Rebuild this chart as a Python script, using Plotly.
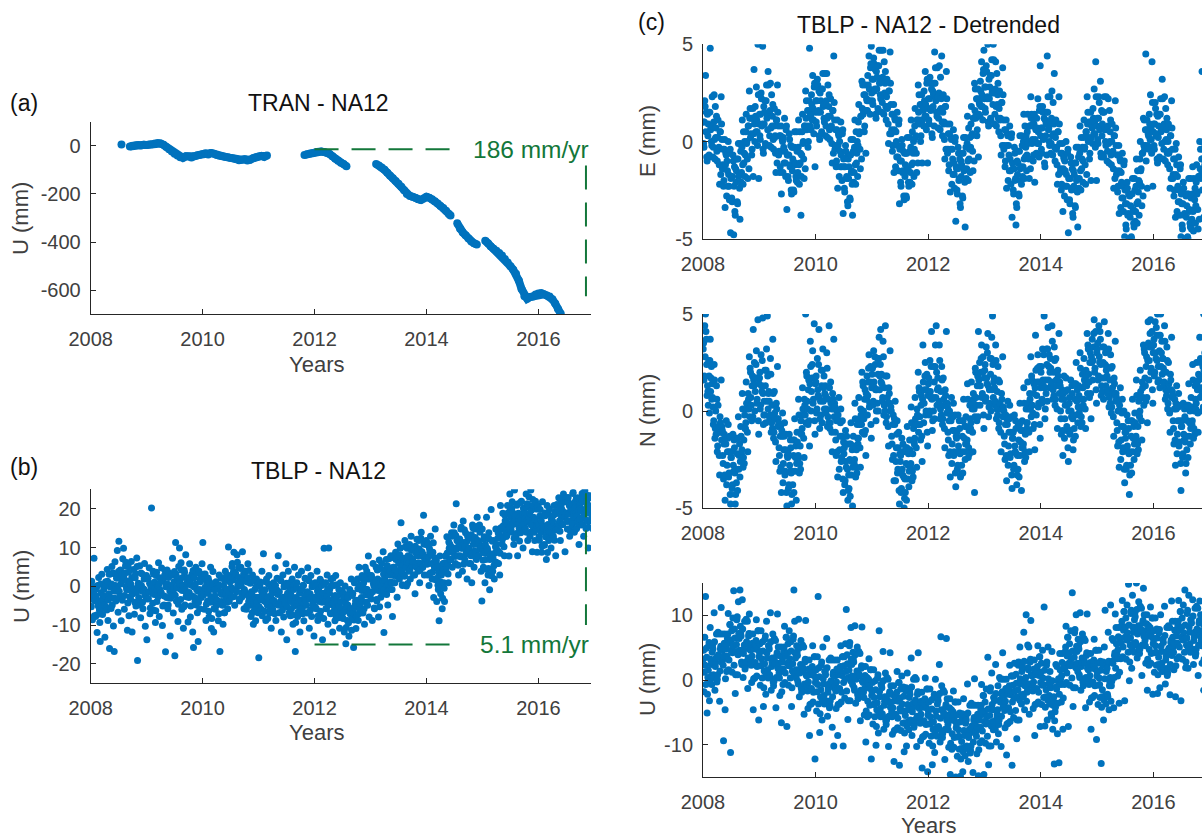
import plotly.graph_objects as go

# ---------------- data ----------------
year_ticks = [2008, 2010, 2012, 2014, 2016]
year_labels = ["2008", "2010", "2012", "2014", "2016"]

a_ticks = [-600, -400, -200, 0]
a_labels = ["-600", "-400", "-200", "0"]
b_ticks = [-20, -10, 0, 10, 20]
b_labels = ["-20", "-10", "0", "10", "20"]
en_ticks = [-5, 0, 5]
en_labels = ["-5", "0", "5"]
cu_ticks = [-10, 0, 10]
cu_labels = ["-10", "0", "10"]

# (a) TRAN - NA12 vertical (mm); None marks data gaps
tran_t = [2008.55, 2008.60,
          2008.70, 2008.75, 2008.80, 2008.85, 2008.90, 2008.95, 2009.00, 2009.05, 2009.10,
          2009.15, 2009.20, 2009.25, 2009.30, 2009.35, 2009.40, 2009.45, 2009.50, 2009.55,
          2009.60, 2009.65, 2009.70, 2009.75, 2009.80, 2009.85, 2009.90, 2009.95, 2010.00,
          2010.05, 2010.10, 2010.15, 2010.20, 2010.25, 2010.30, 2010.35, 2010.40, 2010.45,
          2010.50, 2010.55, 2010.60, 2010.65, 2010.70, 2010.75, 2010.80, 2010.85, 2010.90,
          2010.95, 2011.00, 2011.05, 2011.10, 2011.15, 2011.50,
          2011.82, 2011.87, 2011.92, 2011.97, 2012.02, 2012.07, 2012.12, 2012.17, 2012.22,
          2012.27, 2012.32, 2012.37, 2012.42, 2012.47, 2012.52, 2012.57, 2012.80,
          2013.10, 2013.15, 2013.20, 2013.25, 2013.30, 2013.35, 2013.40, 2013.45, 2013.50,
          2013.55, 2013.60, 2013.65, 2013.70, 2013.75, 2013.80, 2013.85, 2013.90, 2013.95,
          2014.00, 2014.05, 2014.10, 2014.15, 2014.20, 2014.25, 2014.30, 2014.35, 2014.40,
          2014.43, 2014.49,
          2014.55, 2014.60, 2014.65, 2014.70, 2014.75, 2014.80, 2014.85, 2014.90, 2014.97,
          2015.05, 2015.10, 2015.15, 2015.20, 2015.25, 2015.30, 2015.35, 2015.40, 2015.45,
          2015.50, 2015.55, 2015.60, 2015.65, 2015.70, 2015.75, 2015.80, 2015.85, 2015.90,
          2015.95, 2016.00, 2016.05, 2016.10, 2016.15, 2016.20, 2016.25, 2016.30, 2016.35,
          2016.40]
tran_u = [5, None,
          -3, 0, 2, 3, 1, 4, 3, 5, 6,
          9, 12, 9, 4, -5, -14, -24, -33, -40,
          -48, -50, -44, -45, -49, -44, -40, -37, -34,
          -31, -36, -30, -33, -38, -41, -44, -46, -48,
          -51, -53, -56, -60, -58, -56, -61, -58, -52,
          -48, -45, -42, -46, -40, None,
          -38, -35, -32, -30, -27, -25, -24, -26, -29,
          -34, -44, -54, -62, -70, -76, -85, None,
          -76, -82, -90, -100, -112, -125, -135, -146, -158,
          -170, -185, -200, -208, -212, -216, -222, -225, -219,
          -212, -216, -222, -230, -240, -250, -258, -270, -283,
          -290, None,
          -322, -345, -360, -372, -385, -398, -405, -410, None,
          -394, -405, -418, -428, -436, -445, -456, -470, -485,
          -500, -515, -532, -560, -595, -625, -635, -628, -626,
          -618, -614, -612, -617, -622, -626, -638, -655, -678,
          -698]

# (b) TBLP - NA12 vertical (mm); one row per month 2008-01 .. 2016-12 (two reading passes)
tblp_u = [
    [-5.2, 1.3, -8.6, -2.1, 7.2, -3.7], [-7.8, -0.6, -11.9, -4.4, 2.3, -6.1],
    [-14.2, -1.7, 3.1, -7.3, -3.6, 0.4], [-13.1, 1.2, -5.4, 4.3, -8.8, -1.9],
    [-16.0, 3.2, -5.7, 5.1, 0.3, -10.2], [-16.8, 6.3, -3.8, 2.1, 9.2, -6.7],
    [11.6, -2.7, 4.2, -8.9, 1.4, 7.1], [9.8, -5.9, 3.4, 6.2, -0.8, -11.3],
    [5.1, -7.6, 1.2, -3.3, 6.4, -11.8], [-1.9, 4.3, -7.2, 2.2, -5.1, 7.3],
    [-19.1, 0.8, -4.2, 5.3, -8.1, 0.2], [3.2, -5.8, -0.7, 5.9, -10.3, -2.8],
    [-13.8, 2.1, -3.2, 4.8, -7.1, 0.3], [20.2, -1.8, 3.9, -6.2, 1.1, -9.3],
    [2.8, -3.9, 0.2, 6.1, -7.8, -0.9], [-2.2, 4.7, -10.1, 1.3, -4.8, 2.9],
    [-16.9, 0.4, 4.2, -5.8, 2.3, -2.9], [-12.8, 3.1, -1.9, 7.2, -6.9, 1.2],
    [-17.9, 11.3, -3.8, 2.2, -9.1, 5.1], [9.9, -0.7, 6.1, -5.9, 2.3, -10.8],
    [4.2, -4.8, 8.1, -1.8, 1.1, -9.2], [-2.9, 5.8, -7.9, 0.3, 3.1, -11.8],
    [-15.8, 2.2, -3.9, 4.9, -0.8, -6.8], [-14.2, 3.9, -5.8, 1.2, -2.9, 5.8],
    [11.3, -1.8, -5.9, 3.2, -8.8, 0.2], [-3.8, 2.1, -7.9, -0.8, 4.9, -10.9],
    [-2.9, 3.8, -11.8, -0.9, -5.9, 1.2], [-4.8, 0.3, -8.9, 2.9, -16.8, -1.8],
    [-3.9, 2.2, -9.8, 0.1, -6.8, 3.9], [-1.8, 2.9, -5.8, 10.1, -3.9, 1.1],
    [2.2, -2.8, 5.9, -0.8, 8.8, -4.9], [3.1, -0.9, 8.1, 0.2, 4.8, -3.8],
    [0.2, 4.9, -2.8, 8.9, 2.1, -5.8], [-1.8, 3.9, -5.9, 1.1, 5.8, -3.9],
    [-3.9, 0.8, -7.8, -1.9, 2.9, -9.8], [-4.8, -0.8, -8.9, 1.9, -2.9, -6.8],
    [-18.4, -2.8, 1.1, -5.9, 3.9, -1.8], [8.4, -3.8, -0.9, -8.8, 1.9, -4.8],
    [-2.9, 2.8, -6.9, 0.1, -10.8, -1.8], [-5.9, 0.9, -3.8, 4.8, -8.8, -0.9],
    [-1.8, 7.9, -6.8, 1.9, -3.9, -11.8], [-4.8, 2.9, -7.9, 0.2, -2.9, 5.8],
    [-13.8, -1.8, 3.9, -6.8, 0.9, -3.9], [-5.8, 1.9, -9.8, -0.8, 4.9, -16.8],
    [-2.9, 0.9, -7.8, 2.9, -4.8, -11.8], [-0.8, 3.9, -5.8, 0.2, -8.9, -2.8],
    [-3.8, 1.9, -6.9, 4.8, -1.9, -10.8], [-1.9, 2.8, -7.8, 0.1, -4.9, -12.8],
    [-2.8, 0.9, -5.8, 3.9, -8.8, -0.9], [-3.9, 1.8, -7.9, 0.2, -13.8, -1.8],
    [9.8, -2.8, 0.9, -5.8, 2.9, -9.8], [9.9, -1.8, -6.9, 1.9, -3.8, -11.8],
    [-4.8, 0.2, -8.9, 2.8, -2.9, -6.8], [-5.9, -0.8, -10.8, 0.9, -3.9, -7.9],
    [-6.8, -1.9, -11.8, 0.1, -14.8, -4.9], [-8.8, -2.9, -12.9, -0.8, -5.9, 1.9],
    [-7.9, -1.8, -15.8, 0.9, -4.8, -10.9], [-3.9, 1.9, -8.8, 4.9, -5.8, 0.2],
    [-2.9, 2.8, -6.9, 0.9, -9.8, 4.9], [-0.8, 3.9, -4.9, 7.8, -7.9, 1.9],
    [-1.9, 2.8, -8.8, 5.9, 0.2, -5.8], [0.1, 4.9, -3.8, 1.9, -7.9, 6.8],
    [0.9, -2.8, 5.9, -0.8, 8.9, -11.9], [1.9, -1.8, 6.9, 0.2, -4.8, 3.9],
    [2.9, -0.8, 7.9, 0.9, -7.8, 4.9], [4.9, 0.9, 8.8, 2.9, -2.8, 10.9],
    [5.9, 1.9, 9.8, 16.4, 3.9, 0.2], [6.9, 2.9, 11.8, 4.9, 0.1, 9.8],
    [7.9, 3.9, 10.8, 1.9, 12.9, 5.8], [6.9, 2.9, 9.8, -1.9, 8.8, 4.9],
    [7.9, 3.9, 11.8, 0.9, 5.8, 13.9], [8.9, 4.9, 18.3, 2.9, 6.8, 10.8],
    [6.9, 2.9, 10.8, 0.2, 8.8, 12.9], [5.9, 1.9, 8.8, -2.9, 4.8, 14.8],
    [1.9, -3.9, 4.8, -0.8, -8.9, 7.8], [-1.9, 2.9, -5.8, 5.9, 0.9, -3.9],
    [7.8, 3.9, 12.8, 5.9, 0.9, 9.8], [10.8, 6.9, 13.8, 4.9, 8.8, 15.8],
    [9.8, 5.9, 21.3, 11.8, 7.9, 2.9], [11.8, 7.9, 14.8, 9.8, 3.9, 16.8],
    [10.8, 6.9, 13.8, 8.9, 1.9, 12.8], [9.8, 5.9, 12.8, 7.9, 0.9, 15.8],
    [10.8, 4.9, 14.8, 8.9, 6.9, 17.8], [11.8, 7.9, 15.8, 9.8, 3.9, -3.8],
    [8.9, 4.9, 12.8, 0.9, 6.9, 17.8], [9.8, 2.9, 13.8, -0.9, 7.9, 19.8],
    [7.9, 3.9, 11.8, 1.9, 5.9, 14.8], [10.8, 5.9, 13.8, 8.9, 2.9, 20.8],
    [14.8, 10.9, 18.8, 12.8, 7.9, 16.9], [16.8, 12.9, 20.8, 14.8, 7.8, 23.8],
    [17.8, 13.9, 21.8, 15.9, 10.8, 24.8], [16.9, 12.8, 20.9, 7.9, 18.8, 14.9],
    [17.9, 13.8, 21.9, 15.8, 9.9, 19.8], [18.8, 14.9, 23.8, 16.9, 11.8, 20.9],
    [17.8, 12.9, 24.8, 15.8, 8.9, 20.8], [16.9, 11.8, 21.9, 14.8, 8.8, 19.9],
    [15.8, 11.9, 19.8, 13.9, 8.8, 21.8], [14.9, 10.8, 18.9, 12.8, 6.9, 20.8],
    [15.9, 11.8, 19.9, 13.8, 9.9, 17.8], [16.8, 12.9, 20.8, 14.9, 7.9, 18.9],
    [18.8, 14.9, 22.8, 16.9, 11.8, 20.9], [19.8, 15.9, 23.8, 17.9, 8.9, 21.8],
    [18.9, 14.8, 22.9, 16.8, 12.9, 20.8], [19.9, 15.8, 23.9, 17.8, 13.9, 21.8],
    [18.8, 14.9, 22.8, 16.9, 10.8, 20.9], [19.9, 15.8, 23.9, 17.8, 12.9, 21.8],
    [18.8, 14.9, 21.9, 16.8, 9.9, 20.8], [19.9, 16.8, 22.9, 17.9, 14.8, 20.9],
]
tblp_u_2 = [
    [-5.3, 0.1, -3.4, -1.2, -7.6, -2.3], [-2.8, -7.4, 0.2, -5.1, -3.7, -9.3],
    [0.6, -3.9, -5.7, -2.5, -0.8, -4.8], [-2.6, 0.4, -6.1, 1.3, -3.5, 3.1],
    [-0.1, -2.9, 0.6, -4.8, 3.4, -1.2], [-3.1, 0.2, 2.9, -1.3, -0.7, 3.8],
    [-1.3, 4.1, 0.6, 2.8, -3.6, 1.7], [2.2, -2.4, 5.2, -0.1, 1.3, -4.3],
    [3.6, -0.9, -2.7, 0.5, 2.2, -1.8], [-0.6, 2.4, -4.1, 3.3, -1.5, 5.1],
    [-0.1, -2.9, 0.6, -4.8, 3.4, -1.2], [-4.1, -0.8, 1.9, -2.3, -1.7, 2.8],
    [-3.3, 2.1, -1.4, 0.8, -5.6, -0.3], [0.2, -4.4, 3.2, -2.1, -0.7, -6.3],
    [3.6, -0.9, -2.7, 0.5, 2.2, -1.8], [-1.6, 1.4, -5.1, 2.3, -2.5, 4.1],
    [-0.1, -2.9, 0.6, -4.8, 3.4, -1.2], [-3.1, 0.2, 2.9, -1.3, -0.7, 3.8],
    [-2.3, 3.1, -0.4, 1.8, -4.6, 0.7], [1.2, -3.4, 4.2, -1.1, 0.3, -5.3],
    [3.6, -0.9, -2.7, 0.5, 2.2, -1.8], [-1.6, 1.4, -5.1, 2.3, -2.5, 4.1],
    [-0.1, -2.9, 0.6, -4.8, 3.4, -1.2], [-4.1, -0.8, 1.9, -2.3, -1.7, 2.8],
    [-2.3, 3.1, -0.4, 1.8, -4.6, 0.7], [-1.8, -6.4, 1.2, -4.1, -2.7, -8.3],
    [0.6, -3.9, -5.7, -2.5, -0.8, -4.8], [-3.6, -0.6, -7.1, 0.3, -4.5, 2.1],
    [-2.1, -4.9, -1.4, -6.8, 1.4, -3.2], [-4.1, -0.8, 1.9, -2.3, -1.7, 2.8],
    [-0.3, 5.1, 1.6, 3.8, -2.6, 2.7], [3.2, -1.4, 6.2, 0.9, 2.3, -3.3],
    [4.6, 0.1, -1.7, 1.5, 3.2, -0.8], [-1.6, 1.4, -5.1, 2.3, -2.5, 4.1],
    [-2.1, -4.9, -1.4, -6.8, 1.4, -3.2], [-6.1, -2.8, -0.1, -4.3, -3.7, 0.8],
    [-5.3, 0.1, -3.4, -1.2, -7.6, -2.3], [-1.8, -6.4, 1.2, -4.1, -2.7, -8.3],
    [0.6, -3.9, -5.7, -2.5, -0.8, -4.8], [-3.6, -0.6, -7.1, 0.3, -4.5, 2.1],
    [-2.1, -4.9, -1.4, -6.8, 1.4, -3.2], [-6.1, -2.8, -0.1, -4.3, -3.7, 0.8],
    [-5.3, 0.1, -3.4, -1.2, -7.6, -2.3], [-2.8, -7.4, 0.2, -5.1, -3.7, -9.3],
    [-0.4, -4.9, -6.7, -3.5, -1.8, -5.8], [-3.6, -0.6, -7.1, 0.3, -4.5, 2.1],
    [-2.1, -4.9, -1.4, -6.8, 1.4, -3.2], [-6.1, -2.8, -0.1, -4.3, -3.7, 0.8],
    [-5.3, 0.1, -3.4, -1.2, -7.6, -2.3], [-1.8, -6.4, 1.2, -4.1, -2.7, -8.3],
    [0.6, -3.9, -5.7, -2.5, -0.8, -4.8], [-3.6, -0.6, -7.1, 0.3, -4.5, 2.1],
    [-3.1, -5.9, -2.4, -7.8, 0.4, -4.2], [-8.1, -4.8, -2.1, -6.3, -5.7, -1.2],
    [-8.3, -2.9, -6.4, -4.2, -10.6, -5.3], [-4.8, -9.4, -1.8, -7.1, -5.7, -11.3],
    [-2.4, -6.9, -8.7, -5.5, -3.8, -7.8], [-3.6, -0.6, -7.1, 0.3, -4.5, 2.1],
    [-1.1, -3.9, -0.4, -5.8, 2.4, -2.2], [-4.1, -0.8, 1.9, -2.3, -1.7, 2.8],
    [-3.3, 2.1, -1.4, 0.8, -5.6, -0.3], [1.2, -3.4, 4.2, -1.1, 0.3, -5.3],
    [4.6, 0.1, -1.7, 1.5, 3.2, -0.8], [1.4, 4.4, -2.1, 5.3, 0.5, 7.1],
    [3.9, 1.1, 4.6, -0.8, 7.4, 2.8], [0.9, 4.2, 6.9, 2.7, 3.3, 7.8],
    [2.7, 8.1, 4.6, 6.8, 0.4, 5.7], [7.2, 2.6, 10.2, 4.9, 6.3, 0.7],
    [10.6, 6.1, 4.3, 7.5, 9.2, 5.2], [6.4, 9.4, 2.9, 10.3, 5.5, 12.1],
    [8.9, 6.1, 9.6, 4.2, 12.4, 7.8], [4.9, 8.2, 10.9, 6.7, 7.3, 11.8],
    [5.7, 11.1, 7.6, 9.8, 3.4, 8.7], [8.2, 3.6, 11.2, 5.9, 7.3, 1.7],
    [6.6, 2.1, 0.3, 3.5, 5.2, 1.2], [0.4, 3.4, -3.1, 4.3, -0.5, 6.1],
    [7.9, 5.1, 8.6, 3.2, 11.4, 6.8], [6.9, 10.2, 12.9, 8.7, 9.3, 13.8],
    [7.7, 13.1, 9.6, 11.8, 5.4, 10.7], [12.2, 7.6, 15.2, 9.9, 11.3, 5.7],
    [14.6, 10.1, 8.3, 11.5, 13.2, 9.2], [9.4, 12.4, 5.9, 13.3, 8.5, 15.1],
    [11.9, 9.1, 12.6, 7.2, 15.4, 10.8], [7.9, 11.2, 13.9, 9.7, 10.3, 14.8],
    [6.7, 12.1, 8.6, 10.8, 4.4, 9.7], [9.2, 4.6, 12.2, 6.9, 8.3, 2.7],
    [11.6, 7.1, 5.3, 8.5, 10.2, 6.2], [9.4, 12.4, 5.9, 13.3, 8.5, 15.1],
    [14.9, 12.1, 15.6, 10.2, 18.4, 13.8], [12.9, 16.2, 18.9, 14.7, 15.3, 19.8],
    [14.7, 20.1, 16.6, 18.8, 12.4, 17.7], [18.2, 13.6, 21.2, 15.9, 17.3, 11.7],
    [21.6, 17.1, 15.3, 18.5, 20.2, 16.2], [17.4, 20.4, 13.9, 21.3, 16.5, 23.1],
    [18.9, 16.1, 19.6, 14.2, 22.4, 17.8], [13.9, 17.2, 19.9, 15.7, 16.3, 20.8],
    [12.7, 18.1, 14.6, 16.8, 10.4, 15.7], [15.2, 10.6, 18.2, 12.9, 14.3, 8.7],
    [18.6, 14.1, 12.3, 15.5, 17.2, 13.2], [15.4, 18.4, 11.9, 19.3, 14.5, 21.1],
    [18.9, 16.1, 19.6, 14.2, 22.4, 17.8], [15.9, 19.2, 21.9, 17.7, 18.3, 22.8],
    [16.7, 22.1, 18.6, 20.8, 14.4, 19.7], [21.2, 16.6, 24.2, 18.9, 20.3, 14.7],
    [22.6, 18.1, 16.3, 19.5, 21.2, 17.2], [19.4, 22.4, 15.9, 23.3, 18.5, 24.6],
    [19.9, 17.1, 20.6, 15.2, 23.4, 18.8], [16.9, 20.2, 22.9, 18.7, 19.3, 23.8],
]

# (c) detrended East (mm); one row per month, two reading passes
det_e = [
    [1.0, -0.3, 2.1, 3.4, 1.5, -1.0], [0.3, 1.5, -0.8, 4.8, 0.7, -0.2],
    [0.8, -0.3, 2.4, -0.9, 0.2, 1.3], [-1.0, 1.1, -0.3, -2.2, 0.5, 2.3],
    [0.1, -1.2, -2.3, -0.4, -3.4, -0.6], [-2.8, -1.5, 0.0, -2.3, -0.6, -4.7],
    [-1.8, -3.1, -0.7, -4.8, -1.3, -3.8], [-2.1, -0.9, -3.2, -0.1, -1.7, -4.0],
    [-0.5, -1.6, 1.1, -2.2, -1.1, 0.0], [-0.7, 1.4, 0.0, -1.9, 0.8, 2.6],
    [1.7, 0.4, -0.7, 1.2, -1.8, 3.7], [0.0, 1.3, 2.8, 0.5, 5.0, -1.9],
    [1.4, 0.1, 2.5, 0.8, 4.9, -0.6], [0.9, 2.1, -0.2, 2.9, 1.3, 3.6],
    [1.4, 0.3, 3.0, -0.3, 0.8, 1.9], [-0.4, 1.7, 0.3, -1.6, 1.1, 2.9],
    [0.8, -0.5, -1.6, 0.3, -2.7, 0.1], [-1.6, -0.3, 1.2, -1.1, 0.6, -3.5],
    [-0.7, -2.0, 0.4, -1.3, -0.2, -2.7], [-1.5, -0.3, -2.6, 0.5, -1.1, -2.0],
    [-0.5, -1.6, 1.1, -2.2, -1.1, -3.8], [-0.7, 1.4, 0.0, -1.9, 0.8, 2.6],
    [2.1, 0.8, -0.3, 1.6, 4.8, 1.4], [0.6, 1.9, 3.4, 1.1, 2.8, -1.3],
    [2.1, 0.8, 3.2, 1.5, 2.6, 0.1], [1.5, 2.7, 0.4, 3.5, 1.9, 1.0],
    [1.9, 0.8, 3.5, 0.2, 1.3, 2.4], [0.1, 2.2, 0.8, -1.1, 1.6, 4.4],
    [1.1, -0.2, -1.3, 0.6, -2.4, 0.4], [-1.8, -0.5, 1.0, -1.3, 0.4, -3.7],
    [-1.3, -2.6, -0.2, -1.9, -0.8, -3.3], [-1.9, -0.7, -3.0, 0.1, -1.5, -3.8],
    [-0.5, -1.6, 1.1, -2.2, -1.1, 0.0], [-0.2, 1.9, 0.5, -1.4, 1.3, 3.1],
    [2.9, 1.6, 0.5, 2.4, -0.6, 2.2], [1.6, 2.9, 4.4, 2.1, 3.8, 4.9],
    [3.2, 1.9, 4.3, 2.6, 3.7, 1.2], [2.7, 3.9, 1.6, 4.7, 3.1, 2.2],
    [3.1, 2.0, 4.7, 1.4, 2.5, 3.6], [1.1, 3.2, 1.8, -0.1, 2.6, 4.6],
    [1.9, 0.6, -0.5, 1.4, -1.6, 1.2], [-1.3, 0.0, 1.5, -0.8, 0.9, -3.2],
    [-1.0, -2.3, 0.1, -1.6, -0.5, -3.0], [-1.8, -0.6, -2.9, 0.2, -1.4, -2.3],
    [-0.5, -1.6, 1.1, -2.2, -1.1, 0.0], [-0.4, 1.7, 0.3, -1.6, 1.1, 2.9],
    [2.4, 1.1, 0.0, 1.9, -1.1, 1.7], [0.8, 2.1, 3.6, 1.3, 3.0, -1.1],
    [2.2, 0.9, 3.3, 1.6, 2.7, 0.2], [1.8, 3.0, 4.6, 3.8, 2.2, 1.3],
    [2.3, 1.2, 3.9, 0.6, 1.7, 4.4], [0.3, 2.4, 1.0, -0.9, 1.8, 3.6],
    [0.9, -0.4, -1.5, 0.4, -2.6, 0.2], [-2.2, -0.9, 0.6, -1.7, 0.0, -4.1],
    [-1.4, -2.7, -0.3, -2.0, -0.9, -3.4], [-1.8, -0.6, -2.9, 0.2, -1.4, -4.4],
    [-0.3, -1.4, 1.3, -2.0, -0.9, 0.2], [-0.3, 1.8, 0.4, -1.5, 1.2, 3.0],
    [2.7, 1.4, 0.3, 2.2, -0.8, 2.0], [1.3, 2.6, 4.1, 1.8, 3.5, 4.7],
    [2.8, 1.5, 3.9, 2.2, 5.0, 0.8], [2.2, 3.4, 1.1, 4.2, 2.6, 5.0],
    [2.5, 1.4, 4.1, 0.8, 1.9, 3.0], [0.5, 2.6, 1.2, -0.7, 2.0, 3.8],
    [1.1, -0.2, -1.3, 0.6, -2.4, 0.4], [-2.0, -0.7, 0.8, -1.5, 0.2, -3.9],
    [-1.4, -2.7, -0.3, -2.0, -4.3, -3.4], [-1.7, -0.5, -2.8, 0.3, -1.3, -2.2],
    [-0.2, -1.3, 1.4, -1.9, -0.8, 0.3], [-0.7, 1.4, 0.0, -1.9, 0.8, 2.3],
    [1.4, 0.1, -1.0, 0.9, -2.1, 0.7], [-0.6, 0.7, 2.2, -0.1, 1.6, 3.9],
    [0.7, -0.6, 1.8, 0.1, 1.2, -1.3], [0.3, 1.5, 4.4, 2.3, 0.7, -0.2],
    [1.0, -0.1, 2.6, -0.7, 0.4, 3.5], [-1.0, 1.1, -0.3, -2.2, 0.5, 2.3],
    [-0.1, -1.4, -2.5, -0.6, -3.6, -0.8], [-2.8, -1.5, 0.0, -2.3, -0.6, -4.7],
    [-1.9, -3.2, -0.8, -2.5, -1.4, -3.9], [-2.3, -1.1, -3.4, -0.3, -1.9, -4.4],
    [-0.8, -1.9, 0.8, -2.5, -1.4, -0.3], [-1.0, 1.1, -0.3, -2.2, 0.5, 2.3],
    [1.5, 0.2, -0.9, 1.0, -2.0, 0.8], [-0.1, 1.2, 2.7, 0.4, 4.1, -2.0],
    [1.2, -0.1, 2.3, 0.6, 3.1, -0.8], [0.3, 1.5, -0.8, 2.3, 0.7, -0.2],
    [0.6, -0.5, 2.2, -1.1, 0.0, 1.1], [-1.2, 0.9, -0.5, -2.4, 0.3, 2.1],
    [-0.2, -1.5, -2.6, -0.7, -3.7, -0.9], [-3.4, -2.1, -0.6, -2.9, -1.2, -4.9],
    [-3.2, -4.5, -2.1, -3.8, -2.7, -5.0], [-3.9, -2.7, -5.0, -1.9, -3.5, -4.4],
    [-2.5, -3.6, -0.9, -4.2, -3.1, -2.0], [-2.1, 0.0, -1.4, -3.3, -0.6, 1.2],
    [1.1, -0.2, 4.5, 0.6, -2.4, 0.4], [-0.4, 0.9, 2.4, 0.1, 4.1, -2.3],
    [0.9, -0.4, 2.0, 0.3, 1.4, -1.1], [0.2, 1.4, -0.9, 2.2, 0.6, 3.2],
    [0.7, -0.4, 2.3, -1.0, 0.1, 1.2], [-1.2, 0.9, -0.5, -2.4, 0.3, 2.1],
    [-0.4, -1.7, -2.8, -0.9, -3.9, -0.1], [-3.6, -2.3, -0.8, -3.1, -1.4, -4.9],
    [-3.2, -4.5, -2.1, -3.8, -2.7, -5.0], [-3.9, -2.7, -5.0, -1.9, -3.5, -4.4],
    [-2.9, -4.0, -1.3, -4.6, -3.5, -2.4], [-3.3, -1.2, -2.6, -4.5, -1.8, 0.0],
    [-0.4, -1.7, 3.6, -0.9, -3.9, -0.1], [-1.8, -0.5, 1.0, -1.3, 0.4, 3.5],
]
det_e_2 = [
    [-0.1, 1.0, 1.8, 0.5, -0.8, 1.4], [0.9, -0.7, 1.5, 0.6, 0.0, 2.3],
    [-0.8, 1.0, 0.1, 1.8, 0.7, -0.5], [0.2, -0.4, -1.2, 0.5, -1.7, 0.9],
    [-1.4, -0.4, -2.0, 0.1, -1.2, -0.7], [-1.0, -2.3, -1.7, -3.0, -0.4, -1.9],
    [-2.9, -1.8, -1.0, -2.3, -3.6, -1.4], [-1.5, -3.1, -0.9, -1.8, -2.4, -0.1],
    [-2.1, -0.3, -1.2, 0.5, -0.6, -1.8], [0.5, -0.1, -0.9, 0.8, -1.4, 1.2],
    [0.2, 1.2, -0.4, 1.7, 0.4, 0.9], [1.8, 0.5, 1.1, -0.2, 2.4, 0.9],
    [0.3, 1.4, 2.2, 0.9, -0.4, 1.8], [1.5, -0.1, 2.1, 1.2, 0.6, 2.9],
    [-0.2, 1.6, 0.7, 2.4, 1.3, 0.1], [0.8, 0.2, -0.6, 1.1, -1.1, 1.5],
    [-0.7, 0.3, -1.3, 0.8, -0.5, 0.0], [0.2, -1.1, -0.5, -1.8, 0.8, -0.7],
    [-1.8, -0.7, 0.1, -1.2, -2.5, -0.3], [-0.9, -2.5, -0.3, -1.2, -1.8, 0.5],
    [-2.1, -0.3, -1.2, 0.5, -0.6, -1.8], [0.5, -0.1, -0.9, 0.8, -1.4, 1.2],
    [0.6, 1.6, 0.0, 2.1, 0.8, 1.3], [2.4, 1.1, 1.7, 0.4, 3.0, 1.5],
    [1.0, 2.1, 2.9, 1.6, 0.3, 2.5], [2.1, 0.5, 2.7, 1.8, 1.2, 3.5],
    [0.3, 2.1, 1.2, 2.9, 1.8, 0.6], [1.3, 0.7, -0.1, 1.6, -0.6, 2.0],
    [-0.4, 0.6, -1.0, 1.1, -0.2, 0.3], [0.0, -1.3, -0.7, -2.0, 0.6, -0.9],
    [-2.4, -1.3, -0.5, -1.8, -3.1, -0.9], [-1.3, -2.9, -0.7, -1.6, -2.2, 0.1],
    [-2.1, -0.3, -1.2, 0.5, -0.6, -1.8], [1.0, 0.4, -0.4, 1.3, -0.9, 1.7],
    [1.4, 2.4, 0.8, 2.9, 1.6, 2.1], [3.4, 2.1, 2.7, 1.4, 4.0, 2.5],
    [2.1, 3.2, 4.0, 2.7, 1.4, 3.6], [3.3, 1.7, 3.9, 3.0, 2.4, 4.7],
    [1.5, 3.3, 2.4, 4.1, 3.0, 1.8], [2.3, 1.7, 0.9, 2.6, 0.4, 3.0],
    [0.4, 1.4, -0.2, 1.9, 0.6, 1.1], [0.5, -0.8, -0.2, -1.5, 1.1, -0.4],
    [-2.1, -1.0, -0.2, -1.5, -2.8, -0.6], [-1.2, -2.8, -0.6, -1.5, -2.1, 0.2],
    [-2.1, -0.3, -1.2, 0.5, -0.6, -1.8], [0.8, 0.2, -0.6, 1.1, -1.1, 1.5],
    [0.9, 1.9, 0.3, 2.4, 1.1, 1.6], [2.6, 1.3, 1.9, 0.6, 3.2, 1.7],
    [1.1, 2.2, 3.0, 1.7, 0.4, 2.6], [2.4, 0.8, 3.0, 2.1, 1.5, 3.8],
    [0.7, 2.5, 1.6, 3.3, 2.2, 1.0], [1.5, 0.9, 0.1, 1.8, -0.4, 2.2],
    [-0.6, 0.4, -1.2, 0.9, -0.4, 0.1], [-0.4, -1.7, -1.1, -2.4, 0.2, -1.3],
    [-2.5, -1.4, -0.6, -1.9, -3.2, -1.0], [-1.2, -2.8, -0.6, -1.5, -2.1, 0.2],
    [-1.9, -0.1, -1.0, 0.7, -0.4, -1.6], [0.9, 0.3, -0.5, 1.2, -1.0, 1.6],
    [1.2, 2.2, 0.6, 2.7, 1.4, 1.9], [3.1, 1.8, 2.4, 1.1, 3.7, 2.2],
    [1.7, 2.8, 3.6, 2.3, 1.0, 3.2], [2.8, 1.2, 3.4, 2.5, 1.9, 4.2],
    [0.9, 2.7, 1.8, 3.5, 2.4, 1.2], [1.7, 1.1, 0.3, 2.0, -0.2, 2.4],
    [-0.4, 0.6, -1.0, 1.1, -0.2, 0.3], [-0.2, -1.5, -0.9, -2.2, 0.4, -1.1],
    [-2.5, -1.4, -0.6, -1.9, -3.2, -1.0], [-1.1, -2.7, -0.5, -1.4, -2.0, 0.3],
    [-1.8, 0.0, -0.9, 0.8, -0.3, -1.5], [0.5, -0.1, -0.9, 0.8, -1.4, 1.2],
    [-0.1, 0.9, -0.7, 1.4, 0.1, 0.6], [1.2, -0.1, 0.5, -0.8, 1.8, 0.3],
    [-0.4, 0.7, 1.5, 0.2, -1.1, 1.1], [0.9, -0.7, 1.5, 0.6, 0.0, 2.3],
    [-0.6, 1.2, 0.3, 2.0, 0.9, -0.3], [0.2, -0.4, -1.2, 0.5, -1.7, 0.9],
    [-1.6, -0.6, -2.2, -0.1, -1.4, -0.9], [-1.0, -2.3, -1.7, -3.0, -0.4, -1.9],
    [-3.0, -1.9, -1.1, -2.4, -3.7, -1.5], [-1.7, -3.3, -1.1, -2.0, -2.6, -0.3],
    [-2.4, -0.6, -1.5, 0.2, -0.9, -2.1], [0.2, -0.4, -1.2, 0.5, -1.7, 0.9],
    [0.0, 1.0, -0.6, 1.5, 0.2, 0.7], [1.7, 0.4, 1.0, -0.3, 2.3, 0.8],
    [0.1, 1.2, 2.0, 0.7, -0.6, 1.6], [0.9, -0.7, 1.5, 0.6, 0.0, 2.3],
    [-1.0, 0.8, -0.1, 1.6, 0.5, -0.7], [0.0, -0.6, -1.4, 0.3, -1.9, 0.7],
    [-1.7, -0.7, -2.3, -0.2, -1.5, -1.0], [-1.6, -2.9, -2.3, -3.6, -1.0, -2.5],
    [-4.3, -3.2, -2.4, -3.7, -5.0, -2.8], [-3.3, -4.9, -2.7, -3.6, -4.2, -1.9],
    [-4.1, -2.3, -3.2, -1.5, -2.6, -3.8], [-0.9, -1.5, -2.3, -0.6, -2.8, -0.2],
    [-0.4, 0.6, -1.0, 1.1, -0.2, 0.3], [1.4, 0.1, 0.7, -0.6, 2.0, 0.5],
    [-0.2, 0.9, 1.7, 0.4, -0.9, 1.3], [0.8, -0.8, 1.4, 0.5, -0.1, 2.2],
    [-0.9, 0.9, 0.0, 1.7, 0.6, -0.6], [0.0, -0.6, -1.4, 0.3, -1.9, 0.7],
    [-1.9, -0.9, -2.5, -0.4, -1.7, -1.2], [-1.8, -3.1, -2.5, -3.8, -1.2, -2.7],
    [-4.3, -3.2, -2.4, -3.7, -5.0, -2.8], [-3.3, -4.9, -2.7, -3.6, -4.2, -1.9],
    [-4.5, -2.7, -3.6, -1.9, -3.0, -4.2], [-2.1, -2.7, -3.5, -1.8, -4.0, -1.4],
    [-1.9, -0.9, -2.5, -0.4, -1.7, -1.2], [0.0, -1.3, -0.7, -2.0, 0.6, -0.9],
]

# (c) detrended North (mm); one row per month, two reading passes
det_n = [
    [3.2, 1.6, 4.4, 5.0, 3.7, 0.8], [1.0, 2.6, -0.1, 3.7, 1.7, 0.6],
    [0.7, -0.7, 2.4, -1.4, 0.0, 1.3], [-2.1, 0.3, -1.1, -3.3, -0.6, 1.6],
    [-0.8, -2.3, -3.5, -1.2, -4.6, -1.7], [-3.8, -2.1, -0.7, -3.2, -1.3, -4.8],
    [-2.4, -4.0, -1.2, -3.1, -1.9, -4.8], [-3.0, -1.4, -4.1, -0.3, -2.3, -3.4],
    [-0.8, -2.2, 0.9, -2.9, -1.5, -0.2], [-0.9, 1.5, 0.1, -2.1, 0.6, 2.8],
    [2.2, 0.7, -0.5, 1.8, 4.2, 1.3], [0.0, 1.7, 3.1, 0.6, 4.7, -1.2],
    [1.7, 0.1, 2.9, 1.0, 4.8, -0.7], [0.5, 2.1, -0.6, 3.2, 4.9, 0.1],
    [1.0, -0.4, 2.7, -1.1, 0.3, 3.7], [-1.4, 1.0, -0.4, -2.6, 0.1, 2.3],
    [-0.4, -1.9, -3.1, -0.8, -4.2, -1.3], [-3.7, -2.0, -0.6, -3.1, -1.2, -4.9],
    [-2.4, -4.0, -1.2, -3.1, -1.9, -4.8], [-3.1, -1.5, -4.2, -0.4, -2.4, -4.6],
    [-1.1, -2.5, 0.6, -3.2, -1.8, -0.5], [-1.2, 1.2, -0.2, -2.4, 0.3, 5.0],
    [2.0, 0.5, -0.7, 1.6, -1.8, 3.6], [0.0, 1.7, 3.1, 0.6, 4.5, -1.2],
    [1.5, -0.1, 2.7, 0.8, 4.2, -0.9], [0.5, 2.1, -0.6, 3.2, 1.2, 0.1],
    [1.3, -0.1, 3.0, -0.8, 0.6, 4.4], [-0.9, 1.5, 0.1, -2.1, 0.6, 3.7],
    [0.4, -1.1, -2.3, 0.0, -3.4, -0.5], [-3.0, -1.3, 0.1, -2.4, -0.5, -4.2],
    [-2.2, -3.8, -1.0, -2.9, -1.7, -4.6], [-3.3, -1.7, -4.4, -0.6, -2.6, -4.9],
    [-1.3, -2.7, 0.4, -3.4, -2.0, -0.7], [-1.7, 0.7, -0.7, -2.9, -0.2, 2.0],
    [1.5, 0.0, -1.2, 1.1, -2.3, 0.6], [-0.2, 1.5, 2.9, 0.4, 2.3, -1.4],
    [1.9, 0.3, 3.1, 1.2, 2.4, -0.5], [1.1, 2.7, 0.0, 3.8, 1.8, 4.2],
    [1.9, 0.5, 3.6, -0.2, 1.2, 4.4], [-0.6, 1.8, 0.4, -1.8, 0.9, 3.1],
    [0.2, -1.3, -2.5, -0.2, -3.6, -0.7], [-3.6, -1.9, -0.5, -3.0, -1.1, -4.8],
    [-2.6, -4.2, -1.4, -3.3, -2.1, -5.0], [-3.5, -1.9, -4.6, -0.8, -2.8, -3.9],
    [-1.5, -2.9, 0.2, -3.6, -2.2, -0.9], [-1.7, 0.7, -0.7, -2.9, -0.2, 2.0],
    [1.2, -0.3, -1.5, 0.8, -2.6, 3.4], [-0.6, 1.1, 2.5, 0.0, 1.9, -1.8],
    [1.4, -0.2, 2.6, 0.7, 4.1, -1.0], [0.7, 2.3, -0.4, 3.4, 4.4, 0.3],
    [1.7, 0.3, 3.4, -0.4, 1.0, 2.3], [-0.7, 1.7, 0.3, -1.9, 0.8, 4.1],
    [0.4, -1.1, -2.3, 0.0, -3.4, -0.5], [-2.7, -1.0, 0.4, -2.1, -0.2, -3.9],
    [-1.4, -3.0, -0.2, -2.1, -0.9, -3.4], [-2.1, -0.5, -3.2, 0.6, -1.4, -2.5],
    [-0.3, -1.7, 1.4, -2.4, -1.0, 0.3], [-0.9, 1.5, 0.1, -2.1, 0.6, -4.2],
    [2.2, 0.7, -0.5, 1.8, 4.1, 1.3], [0.3, 2.0, 3.4, 0.9, 2.8, -0.9],
    [2.1, 0.5, 3.3, 1.4, 4.0, -0.3], [1.1, 2.7, 0.0, 3.8, 4.9, 0.7],
    [1.7, 0.3, 3.4, -0.4, 1.0, 2.3], [-0.9, 1.5, 0.1, -2.1, 0.6, 2.8],
    [0.2, -1.3, -2.5, -0.2, -3.6, -0.7], [-2.8, -1.1, 0.3, -2.2, -0.3, -4.0],
    [-1.4, -3.0, -0.2, -2.1, -0.9, -3.8], [-2.3, -0.7, -3.4, 0.4, -1.6, -4.1],
    [-0.5, -1.9, 1.2, -2.6, -1.2, 0.1], [-0.9, 1.5, 0.1, -2.1, 0.6, 2.8],
    [1.8, 0.3, -0.9, 1.4, -2.0, 3.9], [-0.2, 1.5, 2.9, 0.4, 2.3, -1.4],
    [2.0, 0.4, 3.2, 1.3, 4.9, -0.4], [1.6, 3.2, 0.5, 4.3, 2.3, 1.2],
    [2.7, 1.3, 4.4, 0.6, 2.0, 3.3], [0.3, 2.7, 1.3, -0.9, 1.8, 4.0],
    [1.5, 0.0, -1.2, 1.1, -2.3, 0.6], [-1.4, 0.3, 1.7, -0.8, 1.1, -2.6],
    [0.4, -1.2, 1.6, -0.3, 0.9, -2.0], [-0.2, 1.4, -1.3, 2.5, 0.5, -0.6],
    [1.3, -0.1, 3.0, -0.8, 0.6, 1.9], [0.3, 2.7, 1.3, -0.9, 1.8, 4.0],
    [3.4, 1.9, 0.7, 3.0, -0.4, 2.5], [1.6, 3.3, 4.7, 2.2, 4.1, 0.4],
    [3.2, 1.6, 4.4, 2.5, 3.7, 0.8], [1.7, 3.3, 0.6, 4.6, 2.4, 1.3],
    [2.3, 0.9, 4.0, 0.2, 1.6, 2.9], [-0.1, 2.3, 0.9, -1.3, 1.4, 3.6],
    [0.9, -0.6, -1.8, 0.5, -2.9, 0.0], [-2.5, -0.8, 0.6, -1.9, 0.0, -3.7],
    [-1.4, -3.0, -0.2, -2.1, -0.9, -4.3], [-2.1, -0.5, -3.2, 0.6, -1.4, -2.5],
    [-0.1, -1.5, 1.6, -2.2, -0.8, 0.5], [-0.3, 2.1, 0.7, -1.5, 1.2, 3.4],
    [3.2, 1.7, 0.5, 2.8, -0.6, 4.6], [1.6, 3.3, 4.7, 2.2, 4.1, 0.4],
    [3.4, 1.8, 4.6, 2.7, 3.9, 5.0], [2.3, 3.9, 1.2, 5.0, 3.0, 1.9],
    [2.7, 1.3, 4.4, 0.6, 2.0, 3.3], [0.1, 2.5, 1.1, -1.1, 1.6, 3.8],
    [1.0, -0.5, -1.7, 0.6, -2.8, 0.1], [-2.2, -0.5, 0.9, -1.6, 0.3, -4.1],
    [-0.8, -2.4, 0.4, -1.5, -0.3, -3.2], [-1.3, 0.3, -2.4, 1.4, -0.6, -1.7],
    [0.7, -0.7, 2.4, -1.4, 0.0, 1.3], [0.1, 2.5, 1.1, -1.1, 1.6, 3.8],
    [2.7, 1.2, 0.0, 2.3, 5.0, 1.8], [0.6, 2.3, 3.7, 1.2, 3.1, -0.6],
]
det_n_2 = [
    [3.5, 1.8, 2.8, 4.1, 2.4, 1.3], [0.3, 1.8, 2.6, 1.0, 2.3, 1.4],
    [0.2, -0.5, 1.6, -0.9, -1.2, 0.6], [-1.8, -0.8, -2.3, -0.3, -1.1, -1.5],
    [-1.0, -2.7, -1.7, -3.3, -1.4, -0.5], [-2.8, -1.4, -3.4, -2.1, -4.3, -2.4],
    [-2.1, -3.8, -2.8, -1.5, -3.2, -4.3], [-3.7, -2.2, -1.4, -3.0, -1.7, -2.6],
    [-1.3, -2.0, 0.1, -2.4, -2.7, -0.9], [-0.6, 0.4, -1.1, 0.9, 0.1, -0.3],
    [2.0, 0.3, 1.3, -0.3, 1.6, 2.5], [1.0, 2.4, 0.4, 1.7, -0.5, 1.4],
    [2.0, 0.3, 1.3, 2.6, 0.9, -0.2], [-0.2, 1.3, 2.1, 0.5, 1.8, 0.9],
    [0.5, -0.2, 1.9, -0.6, -0.9, 0.9], [-1.1, -0.1, -1.6, 0.4, -0.4, -0.8],
    [-0.6, -2.3, -1.3, -2.9, -1.0, -0.1], [-2.7, -1.3, -3.3, -2.0, -4.2, -2.3],
    [-2.1, -3.8, -2.8, -1.5, -3.2, -4.3], [-3.8, -2.3, -1.5, -3.1, -1.8, -2.7],
    [-1.6, -2.3, -0.2, -2.7, -3.0, -1.2], [-0.9, 0.1, -1.4, 0.6, -0.2, -0.6],
    [1.8, 0.1, 1.1, -0.5, 1.4, 2.3], [1.0, 2.4, 0.4, 1.7, -0.5, 1.4],
    [1.8, 0.1, 1.1, 2.4, 0.7, -0.4], [-0.2, 1.3, 2.1, 0.5, 1.8, 0.9],
    [0.8, 0.1, 2.2, -0.3, -0.6, 1.2], [-0.6, 0.4, -1.1, 0.9, 0.1, -0.3],
    [0.2, -1.5, -0.5, -2.1, -0.2, 0.7], [-2.0, -0.6, -2.6, -1.3, -3.5, -1.6],
    [-1.9, -3.6, -2.6, -1.3, -3.0, -4.1], [-4.0, -2.5, -1.7, -3.3, -2.0, -2.9],
    [-1.8, -2.5, -0.4, -2.9, -3.2, -1.4], [-1.4, -0.4, -1.9, 0.1, -0.7, -1.1],
    [1.3, -0.4, 0.6, -1.0, 0.9, 1.8], [0.8, 2.2, 0.2, 1.5, -0.7, 1.2],
    [2.2, 0.5, 1.5, 2.8, 1.1, 0.0], [0.4, 1.9, 2.7, 1.1, 2.4, 1.5],
    [1.4, 0.7, 2.8, 0.3, 0.0, 1.8], [-0.3, 0.7, -0.8, 1.2, 0.4, 0.0],
    [0.0, -1.7, -0.7, -2.3, -0.4, 0.5], [-2.6, -1.2, -3.2, -1.9, -4.1, -2.2],
    [-2.3, -4.0, -3.0, -1.7, -3.4, -4.5], [-4.2, -2.7, -1.9, -3.5, -2.2, -3.1],
    [-2.0, -2.7, -0.6, -3.1, -3.4, -1.6], [-1.4, -0.4, -1.9, 0.1, -0.7, -1.1],
    [1.0, -0.7, 0.3, -1.3, 0.6, 1.5], [0.4, 1.8, -0.2, 1.1, -1.1, 0.8],
    [1.7, 0.0, 1.0, 2.3, 0.6, -0.5], [0.0, 1.5, 2.3, 0.7, 2.0, 1.1],
    [1.2, 0.5, 2.6, 0.1, -0.2, 1.6], [-0.4, 0.6, -0.9, 1.1, 0.3, -0.1],
    [0.2, -1.5, -0.5, -2.1, -0.2, 0.7], [-1.7, -0.3, -2.3, -1.0, -3.2, -1.3],
    [-1.1, -2.8, -1.8, -0.5, -2.2, -3.3], [-2.8, -1.3, -0.5, -2.1, -0.8, -1.7],
    [-0.8, -1.5, 0.6, -1.9, -2.2, -0.4], [-0.6, 0.4, -1.1, 0.9, 0.1, -0.3],
    [2.0, 0.3, 1.3, -0.3, 1.6, 2.5], [1.3, 2.7, 0.7, 2.0, -0.2, 1.7],
    [2.4, 0.7, 1.7, 3.0, 1.3, 0.2], [0.4, 1.9, 2.7, 1.1, 2.4, 1.5],
    [1.2, 0.5, 2.6, 0.1, -0.2, 1.6], [-0.6, 0.4, -1.1, 0.9, 0.1, -0.3],
    [0.0, -1.7, -0.7, -2.3, -0.4, 0.5], [-1.8, -0.4, -2.4, -1.1, -3.3, -1.4],
    [-1.1, -2.8, -1.8, -0.5, -2.2, -3.3], [-3.0, -1.5, -0.7, -2.3, -1.0, -1.9],
    [-1.0, -1.7, 0.4, -2.1, -2.4, -0.6], [-0.6, 0.4, -1.1, 0.9, 0.1, -0.3],
    [1.6, -0.1, 0.9, -0.7, 1.2, 2.1], [0.8, 2.2, 0.2, 1.5, -0.7, 1.2],
    [2.3, 0.6, 1.6, 2.9, 1.2, 0.1], [0.9, 2.4, 3.2, 1.6, 2.9, 2.0],
    [2.2, 1.5, 3.6, 1.1, 0.8, 2.6], [0.6, 1.6, 0.1, 2.1, 1.3, 0.9],
    [1.3, -0.4, 0.6, -1.0, 0.9, 1.8], [-0.4, 1.0, -1.0, 0.3, -1.9, 0.0],
    [0.7, -1.0, 0.0, 1.3, -0.4, -1.5], [-0.9, 0.6, 1.4, -0.2, 1.1, 0.2],
    [0.8, 0.1, 2.2, -0.3, -0.6, 1.2], [0.6, 1.6, 0.1, 2.1, 1.3, 0.9],
    [3.2, 1.5, 2.5, 0.9, 2.8, 3.7], [2.6, 4.0, 2.0, 3.3, 1.1, 3.0],
    [3.5, 1.8, 2.8, 4.1, 2.4, 1.3], [1.0, 2.5, 3.3, 1.7, 3.0, 2.1],
    [1.8, 1.1, 3.2, 0.7, 0.4, 2.2], [0.2, 1.2, -0.3, 1.7, 0.9, 0.5],
    [0.7, -1.0, 0.0, -1.6, 0.3, 1.2], [-1.5, -0.1, -2.1, -0.8, -3.0, -1.1],
    [-1.1, -2.8, -1.8, -0.5, -2.2, -3.3], [-2.8, -1.3, -0.5, -2.1, -0.8, -1.7],
    [-0.6, -1.3, 0.8, -1.7, -2.0, -0.2], [0.0, 1.0, -0.5, 1.5, 0.7, 0.3],
    [3.0, 1.3, 2.3, 0.7, 2.6, 3.5], [2.6, 4.0, 2.0, 3.3, 1.1, 3.0],
    [3.7, 2.0, 3.0, 4.3, 2.6, 1.5], [1.6, 3.1, 3.9, 2.3, 3.6, 2.7],
    [2.2, 1.5, 3.6, 1.1, 0.8, 2.6], [0.4, 1.4, -0.1, 1.9, 1.1, 0.7],
    [0.8, -0.9, 0.1, -1.5, 0.4, 1.3], [-1.2, 0.2, -1.8, -0.5, -2.7, -0.8],
    [-0.5, -2.2, -1.2, 0.1, -1.6, -2.7], [-2.0, -0.5, 0.3, -1.3, 0.0, -0.9],
    [0.2, -0.5, 1.6, -0.9, -1.2, 0.6], [0.4, 1.4, -0.1, 1.9, 1.1, 0.7],
    [2.5, 0.8, 1.8, 0.2, 2.1, 3.0], [1.6, 3.0, 1.0, 2.3, 0.1, 2.0],
]

# (c) detrended Up (mm); one row per month, two reading passes
det_u = [
    [3.2, -1.8, 6.6, 12.9, 4.9, -5.1], [0.4, 5.3, -3.2, 8.1, 2.4, -0.7],
    [5.3, 0.8, 10.4, -1.6, 2.7, 7.1], [0.1, 7.4, 3.6, -3.3, 4.8, 11.2],
    [7.1, 3.1, -9.4, 5.7, -4.6, 4.8], [1.3, 6.4, 10.3, 3.1, 8.6, -11.2],
    [6.2, 1.2, 9.6, 13.8, 7.9, -2.1], [4.4, 9.3, 0.8, 12.1, 6.4, 13.9],
    [7.3, 2.8, 12.4, 0.4, 4.7, 9.1], [2.1, 9.4, 5.6, -1.3, 6.8, 10.2],
    [7.1, 3.1, -0.4, 5.7, -4.6, 4.8], [0.3, 5.4, 9.3, 2.1, 7.6, -6.2],
    [4.2, -0.8, 7.6, 2.3, 5.9, -4.1], [1.4, 6.3, -2.2, 9.1, 3.4, 0.3],
    [5.3, 0.8, 10.4, -1.6, 2.7, 7.1], [-0.9, 6.4, 2.6, -4.3, 3.8, 10.2],
    [5.1, 1.1, -2.4, 3.7, -6.6, 2.8], [-0.7, 4.4, 8.3, 1.1, 6.6, -7.2],
    [4.2, -0.8, 7.6, 2.3, 5.9, -4.1], [1.4, 6.3, 13.9, 9.1, 3.4, 0.3],
    [4.3, -0.2, 9.4, -2.6, 1.7, 6.1], [-1.9, 5.4, 1.6, -5.3, 2.8, 9.2],
    [3.1, -0.9, -4.4, 1.7, -8.6, 0.8], [-3.7, 1.4, 5.3, -1.9, 3.6, -12.2],
    [0.2, -4.8, 3.6, 12.9, 1.9, -8.1], [-2.6, 2.3, -6.2, 5.1, -0.6, -3.7],
    [1.3, -3.2, 6.4, -5.6, -1.3, 3.1], [-3.9, 3.4, -0.4, -7.3, 0.8, -10.2],
    [3.1, -0.9, -4.4, 1.7, -8.6, 0.8], [-3.7, 1.4, 5.3, -1.9, 3.6, -10.2],
    [2.2, -2.8, 5.6, 10.9, 3.9, -6.1], [0.4, 5.3, -3.2, 8.1, 2.4, -0.7],
    [3.3, -1.2, 8.4, -3.6, 0.7, 5.1], [-2.9, 4.4, 0.6, -6.3, 1.8, 8.2],
    [2.1, -1.9, -5.4, 0.7, -9.6, -0.2], [-5.7, -0.6, 3.3, -3.9, 1.6, -12.2],
    [-1.8, -6.8, 1.6, -3.7, -0.1, -10.1], [-4.6, 0.3, -8.2, 7.6, -2.6, -5.7],
    [-0.7, -5.2, 4.4, -7.6, -3.3, 1.1], [-6.9, 0.4, -3.4, -10.3, -2.2, 4.2],
    [-0.9, -4.9, -8.4, -2.3, -12.6, -3.2], [-7.7, -2.6, 1.3, -5.9, -0.4, -13.2],
    [-2.8, -7.8, 0.6, -4.7, -1.1, -11.1], [-6.6, -1.7, -10.2, 1.1, -4.6, -7.7],
    [-1.7, -6.2, 3.4, -8.6, -4.3, 0.1], [-6.9, 0.4, -3.4, -10.3, -2.2, 4.2],
    [-1.9, -5.9, -9.4, -3.3, -13.6, -4.2], [-8.7, -3.6, 0.3, -6.9, -1.4, -14.2],
    [-4.8, -9.8, -1.4, -6.7, -3.1, -13.1], [-7.6, -2.7, -11.2, 0.1, -5.6, -8.7],
    [-2.7, -7.2, 2.4, -9.6, 6.7, -0.9], [-8.9, -1.6, -5.4, -12.3, -4.2, 6.4],
    [-2.9, -6.9, -10.4, -4.3, -14.6, -5.2], [-10.7, -5.6, -1.7, -8.9, -3.4, -15.0],
    [-6.8, -11.8, -3.4, -8.7, -5.1, -14.9], [-10.6, -5.7, -14.2, -2.9, -8.6, -11.7],
    [-5.7, -10.2, -0.6, -12.6, -8.3, -3.9], [-10.9, -3.6, -7.4, -14.3, -6.2, 0.2],
    [-3.9, -7.9, -11.4, -5.3, -14.8, -6.2], [-9.7, -4.6, -0.7, -7.9, -2.4, -14.6],
    [-4.8, -9.8, -1.4, -6.7, 3.5, -13.1], [-6.6, -1.7, -10.2, 1.1, -4.6, -7.7],
    [-2.7, -7.2, 2.4, -9.6, -5.3, -0.9], [-6.9, 0.4, -3.4, -10.3, -2.2, 4.2],
    [0.1, -3.9, -7.4, -1.3, -11.6, -2.2], [-6.7, -1.6, 2.3, -4.9, 0.6, -13.2],
    [-0.8, -5.8, 2.6, -2.7, 0.9, -9.1], [-2.6, 2.3, -6.2, 5.1, -0.6, -3.7],
    [2.3, -2.2, 7.4, -4.6, -0.3, 10.1], [-1.9, 5.4, 1.6, -5.3, 2.8, 9.2],
    [3.1, -0.9, -4.4, 1.7, -8.6, 0.8], [-3.7, 1.4, 5.3, -1.9, 3.6, -7.2],
    [1.2, -3.8, 4.6, -0.7, 11.3, -7.1], [-2.6, 2.3, -6.2, 5.1, -0.6, -3.7],
    [-0.7, -5.2, 4.4, -7.6, -3.3, -13.0], [-4.9, 2.4, -1.4, -8.3, -0.2, -12.8],
    [4.1, 0.1, -3.4, 2.7, -7.6, 1.8], [-0.7, 4.4, 8.3, 1.1, 6.6, -7.2],
    [4.2, -0.8, 7.6, 2.3, 13.5, -4.1], [2.4, 7.3, -1.2, 10.1, 4.4, 1.3],
    [5.3, 0.8, 10.4, -1.6, 2.7, 7.1], [-0.9, 6.4, 2.6, -4.3, 3.8, 10.2],
    [4.1, 0.1, -3.4, 2.7, -7.6, 1.8], [-2.7, 2.4, 6.3, -0.9, 4.6, -9.2],
    [1.2, -3.8, 4.6, -0.7, 2.9, -12.9], [-2.6, 2.3, -6.2, 5.1, 10.8, -3.7],
    [2.3, -2.2, 7.4, -4.6, -0.3, 11.6], [-0.9, 6.4, 2.6, -4.3, 3.8, 10.2],
    [8.1, 4.1, 0.6, 6.7, -3.6, 5.8], [3.3, 8.4, 12.3, 5.1, 10.6, -3.2],
    [8.2, 3.2, 11.6, 6.3, 14.8, -0.1], [5.4, 10.3, 1.8, 13.1, 7.4, 4.3],
    [10.3, 5.8, 15.0, 3.4, 7.7, 12.1], [4.1, 11.4, 7.6, 0.7, 8.8, 14.2],
    [10.1, 6.1, 2.6, 8.7, -1.6, 7.8], [2.3, 7.4, 11.3, 4.1, 9.6, -2.2],
    [6.2, 1.2, 9.6, 4.3, 7.9, -2.1], [2.4, 7.3, -1.2, 10.1, 4.4, 1.3],
    [6.3, 1.8, 11.4, -0.6, 3.7, 8.1], [1.1, 8.4, 4.6, -2.3, 5.8, 12.2],
    [9.1, 5.1, 1.6, 7.7, -2.6, 6.8], [3.3, 8.4, 12.3, 5.1, 10.6, -3.2],
    [8.2, 3.2, 11.6, 6.3, 13.9, 1.9], [5.4, 10.3, 1.8, 13.1, 7.4, 4.3],
    [9.3, 4.8, 12.4, 2.4, 6.7, 11.1], [4.1, 11.4, 7.6, 0.7, 8.8, 12.2],
    [10.1, 6.1, 2.6, 8.7, -1.6, 7.8], [3.3, 8.4, 12.3, 5.1, 10.6, 1.8],
]
det_u_2 = [
    [4.6, 1.2, 2.3, -0.7, 3.5, -2.2], [1.5, 5.8, -0.1, 3.2, 0.6, 4.3],
    [4.8, 0.4, 5.9, 2.1, 3.4, -0.3], [0.8, 3.9, 7.1, 1.4, 5.2, 2.8],
    [4.6, 2.3, 3.7, 7.1, 0.2, 5.4], [3.7, 7.1, 1.6, 5.7, 8.6, 4.6],
    [7.6, 4.2, 5.3, 2.3, 6.5, 0.8], [5.5, 9.8, 3.9, 7.2, 4.6, 8.3],
    [6.8, 2.4, 7.9, 4.1, 5.4, 1.7], [2.8, 5.9, 9.1, 3.4, 7.2, 4.8],
    [4.6, 2.3, 3.7, 7.1, 0.2, 5.4], [2.7, 6.1, 0.6, 4.7, 7.6, 3.6],
    [5.6, 2.2, 3.3, 0.3, 4.5, -1.2], [2.5, 6.8, 0.9, 4.2, 1.6, 5.3],
    [4.8, 0.4, 5.9, 2.1, 3.4, -0.3], [-0.2, 2.9, 6.1, 0.4, 4.2, 1.8],
    [2.6, 0.3, 1.7, 5.1, -1.8, 3.4], [1.7, 5.1, -0.4, 3.7, 6.6, 2.6],
    [5.6, 2.2, 3.3, 0.3, 4.5, -1.2], [2.5, 6.8, 0.9, 4.2, 1.6, 5.3],
    [3.8, -0.6, 4.9, 1.1, 2.4, -1.3], [-1.2, 1.9, 5.1, -0.6, 3.2, 0.8],
    [0.6, -1.7, -0.3, 3.1, -3.8, 1.4], [-1.3, 2.1, -3.4, 0.7, 3.6, -0.4],
    [1.6, -1.8, -0.7, -3.7, 0.5, -5.2], [-1.5, 2.8, -3.1, 0.2, -2.4, 1.3],
    [0.8, -3.6, 1.9, -1.9, -0.6, -4.3], [-3.2, -0.1, 3.1, -2.6, 1.2, -1.2],
    [0.6, -1.7, -0.3, 3.1, -3.8, 1.4], [-1.3, 2.1, -3.4, 0.7, 3.6, -0.4],
    [3.6, 0.2, 1.3, -1.7, 2.5, -3.2], [1.5, 5.8, -0.1, 3.2, 0.6, 4.3],
    [2.8, -1.6, 3.9, 0.1, 1.4, -2.3], [-2.2, 0.9, 4.1, -1.6, 2.2, -0.2],
    [-0.4, -2.7, -1.3, 2.1, -4.8, 0.4], [-3.3, 0.1, -5.4, -1.3, 1.6, -2.4],
    [-0.4, -3.8, -2.7, -5.7, -1.5, -7.2], [-3.5, 0.8, -5.1, -1.8, -4.4, -0.7],
    [-1.2, -5.6, -0.1, -3.9, -2.6, -6.3], [-6.2, -3.1, 0.1, -5.6, -1.8, -4.2],
    [-3.4, -5.7, -4.3, -0.9, -7.8, -2.6], [-5.3, -1.9, -7.4, -3.3, -0.4, -4.4],
    [-1.4, -4.8, -3.7, -6.7, -2.5, -8.2], [-5.5, -1.2, -7.1, -3.8, -6.4, -2.7],
    [-2.2, -6.6, -1.1, -4.9, -3.6, -7.3], [-6.2, -3.1, 0.1, -5.6, -1.8, -4.2],
    [-4.4, -6.7, -5.3, -1.9, -8.8, -3.6], [-6.3, -2.9, -8.4, -4.3, -1.4, -5.4],
    [-3.4, -6.8, -5.7, -8.7, -4.5, -10.2], [-6.5, -2.2, -8.1, -4.8, -7.4, -3.7],
    [-3.2, -7.6, -2.1, -5.9, -4.6, -8.3], [-8.2, -5.1, -1.9, -7.6, -3.8, -6.2],
    [-5.4, -7.7, -6.3, -2.9, -9.8, -4.6], [-8.3, -4.9, -10.4, -6.3, -3.4, -7.4],
    [-5.4, -8.8, -7.7, -10.7, -6.5, -12.2], [-9.5, -5.2, -11.1, -7.8, -10.4, -6.7],
    [-6.2, -10.6, -5.1, -8.9, -7.6, -11.3], [-10.2, -7.1, -3.9, -9.6, -5.8, -8.2],
    [-6.4, -8.7, -7.3, -3.9, -10.8, -5.6], [-7.3, -3.9, -9.4, -5.3, -2.4, -6.4],
    [-3.4, -6.8, -5.7, -8.7, -4.5, -10.2], [-5.5, -1.2, -7.1, -3.8, -6.4, -2.7],
    [-3.2, -7.6, -2.1, -5.9, -4.6, -8.3], [-6.2, -3.1, 0.1, -5.6, -1.8, -4.2],
    [-2.4, -4.7, -3.3, 0.1, -6.8, -1.6], [-4.3, -0.9, -6.4, -2.3, 0.6, -3.4],
    [0.6, -2.8, -1.7, -4.7, -0.5, -6.2], [-1.5, 2.8, -3.1, 0.2, -2.4, 1.3],
    [1.8, -2.6, 2.9, -0.9, 0.4, -3.3], [-1.2, 1.9, 5.1, -0.6, 3.2, 0.8],
    [0.6, -1.7, -0.3, 3.1, -3.8, 1.4], [-1.3, 2.1, -3.4, 0.7, 3.6, -0.4],
    [2.6, -0.8, 0.3, -2.7, 1.5, -4.2], [-1.5, 2.8, -3.1, 0.2, -2.4, 1.3],
    [-1.2, -5.6, -0.1, -3.9, -2.6, -6.3], [-4.2, -1.1, 2.1, -3.6, 0.2, -2.2],
    [1.6, -0.7, 0.7, 4.1, -2.8, 2.4], [1.7, 5.1, -0.4, 3.7, 6.6, 2.6],
    [5.6, 2.2, 3.3, 0.3, 4.5, -1.2], [3.5, 7.8, 1.9, 5.2, 2.6, 6.3],
    [4.8, 0.4, 5.9, 2.1, 3.4, -0.3], [-0.2, 2.9, 6.1, 0.4, 4.2, 1.8],
    [1.6, -0.7, 0.7, 4.1, -2.8, 2.4], [-0.3, 3.1, -2.4, 1.7, 4.6, 0.6],
    [2.6, -0.8, 0.3, -2.7, 1.5, -4.2], [-1.5, 2.8, -3.1, 0.2, -2.4, 1.3],
    [1.8, -2.6, 2.9, -0.9, 0.4, -3.3], [-0.2, 2.9, 6.1, 0.4, 4.2, 1.8],
    [5.6, 3.3, 4.7, 8.1, 1.2, 6.4], [5.7, 9.1, 3.6, 7.7, 10.6, 6.6],
    [9.6, 6.2, 7.3, 4.3, 8.5, 2.8], [6.5, 10.8, 4.9, 8.2, 5.6, 9.3],
    [9.8, 5.4, 10.9, 7.1, 8.4, 4.7], [4.8, 7.9, 11.1, 5.4, 9.2, 6.8],
    [7.6, 5.3, 6.7, 10.1, 3.2, 8.4], [4.7, 8.1, 2.6, 6.7, 9.6, 5.6],
    [7.6, 4.2, 5.3, 2.3, 6.5, 0.8], [3.5, 7.8, 1.9, 5.2, 2.6, 6.3],
    [5.8, 1.4, 6.9, 3.1, 4.4, 0.7], [1.8, 4.9, 8.1, 2.4, 6.2, 3.8],
    [6.6, 4.3, 5.7, 9.1, 2.2, 7.4], [5.7, 9.1, 3.6, 7.7, 10.6, 6.6],
    [9.6, 6.2, 7.3, 4.3, 8.5, 2.8], [6.5, 10.8, 4.9, 8.2, 5.6, 9.3],
    [8.8, 4.4, 9.9, 6.1, 7.4, 3.7], [4.8, 7.9, 11.1, 5.4, 9.2, 6.8],
    [7.6, 5.3, 6.7, 10.1, 3.2, 8.4], [5.7, 9.1, 3.6, 7.7, 10.6, 6.6],
]

# ---------------- helpers ----------------
W, H = 1202, 837
BLUE = "#0072BD"
GREEN = "#13773a"
AXC = "#262626"
TICKC = "#404040"
FONT = "Liberation Sans, Arial, Helvetica, sans-serif"


def monthly_to_xy(rows_a, rows_b, start_year=2008.0):
    xs, ys = [], []
    for m, (ra, rb) in enumerate(zip(rows_a, rows_b)):
        row = [v for pair in zip(ra, rb) for v in pair]
        n = len(row)
        for k, v in enumerate(row):
            xs.append(start_year + (m + (k + 0.5) / n) / 12.0)
            ys.append(v)
    return xs, ys


def fx(px):
    return px / W


def fy(py):
    return 1 - py / H


fig = go.Figure()

mk = dict(color=BLUE, size=7, line=dict(width=0))

fig.add_trace(go.Scatter(x=tran_t, y=tran_u, mode="lines+markers",
                         line=dict(color=BLUE, width=8), marker=dict(color=BLUE, size=8),
                         connectgaps=False, xaxis="x", yaxis="y", showlegend=False))
for ra, rb, ax, ay in [(tblp_u, tblp_u_2, "x2", "y2"), (det_e, det_e_2, "x3", "y3"),
                       (det_n, det_n_2, "x4", "y4"), (det_u, det_u_2, "x5", "y5")]:
    xs, ys = monthly_to_xy(ra, rb)
    fig.add_trace(go.Scatter(x=xs, y=ys, mode="markers", marker=mk,
                             xaxis=ax, yaxis=ay, showlegend=False))


def xax(dom, rng, anchor):
    return dict(domain=dom, range=rng, anchor=anchor, showline=True, linecolor=AXC,
                linewidth=1, ticks="inside", ticklen=5, tickcolor=AXC,
                tickvals=year_ticks, ticktext=year_labels, showgrid=False, zeroline=False,
                ticklabelstandoff=7,
                tickfont=dict(family=FONT, size=20, color=TICKC), automargin=False)


def yax(dom, rng, anchor, tv, tt):
    return dict(domain=dom, range=rng, anchor=anchor, showline=True, linecolor=AXC,
                linewidth=1, ticks="inside", ticklen=5, tickcolor=AXC,
                tickvals=tv, ticktext=tt, showgrid=False, zeroline=False,
                ticklabelstandoff=5,
                tickfont=dict(family=FONT, size=20, color=TICKC), automargin=False)


left_dom = [fx(90.7), fx(591)]
right_dom = [fx(703), 1.0]
ab_range = [2008, 2016.94]
c_range = [2008, 2008 + (1202 - 703) / 56.3]

fig.update_layout(
    width=W, height=H, margin=dict(l=0, r=0, t=0, b=0),
    paper_bgcolor="white", plot_bgcolor="white",
    xaxis=xax(left_dom, ab_range, "y"),
    yaxis=yax([fy(314.3), fy(121.7)], [-700, 100], "x", a_ticks, a_labels),
    xaxis2=xax(left_dom, ab_range, "y2"),
    yaxis2=yax([fy(683.3), fy(489.3)], [-25, 25], "x2", b_ticks, b_labels),
    xaxis3=xax(right_dom, c_range, "y3"),
    yaxis3=yax([fy(238.7), fy(44.3)], [-5, 5], "x3", en_ticks, en_labels),
    xaxis4=xax(right_dom, c_range, "y4"),
    yaxis4=yax([fy(508), fy(314)], [-5, 5], "x4", en_ticks, en_labels),
    xaxis5=xax(right_dom, c_range, "y5"),
    yaxis5=yax([fy(777), fy(583)], [-15, 15], "x5", cu_ticks, cu_labels),
)

# dashed rate guides
dash = "24px,13px"
guides = [("x", "y", 2012, -14, 2014.62, -14), ("x", "y", 2016.85, -82, 2016.85, -625),
          ("x2", "y2", 2012, -15, 2014.62, -15), ("x2", "y2", 2016.85, 24, 2016.85, -10)]
for xr, yr, x0, y0, x1, y1 in guides:
    fig.add_shape(type="line", xref=xr, yref=yr, x0=x0, y0=y0, x1=x1, y1=y1,
                  line=dict(color=GREEN, width=2, dash=dash))

ann = []


def text(s, px, py, size, color="#111111", xanchor="center", angle=0):
    ann.append(dict(text=s, x=fx(px), y=fy(py), xref="paper", yref="paper",
                    xanchor=xanchor, yanchor="middle", showarrow=False, textangle=angle,
                    font=dict(family=FONT, size=size, color=color)))


text("(a)", 8, 103, 23, xanchor="left")
text("TRAN - NA12", 318, 103, 23)
text("(b)", 8, 467, 23, xanchor="left")
text("TBLP - NA12", 318, 471, 23)
text("(c)", 636, 22, 23, xanchor="left")
text("TBLP - NA12 - Detrended", 928, 25, 23)
text("Years", 316, 364, 22, color=TICKC)
text("Years", 316, 732, 22, color=TICKC)
text("Years", 928, 825, 22, color=TICKC)
text("U (mm)", 21, 218, 22, color=TICKC, angle=-90)
text("U (mm)", 21, 586, 22, color=TICKC, angle=-90)
text("E (mm)", 647, 141, 22, color=TICKC, angle=-90)
text("N (mm)", 647, 411, 22, color=TICKC, angle=-90)
text("U (mm)", 647, 680, 22, color=TICKC, angle=-90)
for s, yv, yr in [("186 mm/yr", -14, "y"), ("5.1 mm/yr", -15, "y2")]:
    ann.append(dict(text=s, x=2016.92, y=yv, xref="x" if yr == "y" else "x2", yref=yr,
                    xanchor="right", yanchor="middle", showarrow=False,
                    bgcolor="white", borderpad=0,
                    font=dict(family=FONT, size=24.5, color=GREEN)))
fig.update_layout(annotations=ann)

fig.write_html("out.html")
